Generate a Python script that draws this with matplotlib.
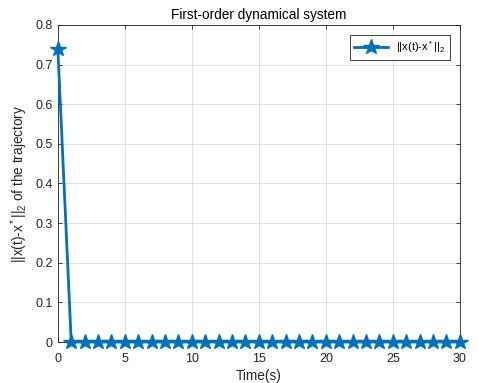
import matplotlib
matplotlib.use("Agg")
import matplotlib.pyplot as plt
import numpy as np

# data
time_s = list(range(0, 31))
error_norm = [0.74] + [0.0] * 30

plt.rcParams['font.family'] = ['Liberation Sans', 'DejaVu Sans']
plt.rcParams['mathtext.fontset'] = 'custom'
plt.rcParams['mathtext.rm'] = 'Liberation Sans'
plt.rcParams['mathtext.it'] = 'Liberation Sans'

fig = plt.figure(figsize=(4.78, 3.83), dpi=100)
ax = fig.add_axes([0.121, 0.107, 0.841, 0.828])

ax.plot(time_s, error_norm, color='#0072BD', lw=2, marker='*', ms=11.5,
        clip_on=False, zorder=3, label=r'||x(t)-x$^*$||$_2$')

ax.set_xlim(0, 30)
ax.set_ylim(0, 0.8)
ax.set_xticks(np.arange(0, 31, 5))
ax.set_yticks(np.arange(0, 0.81, 0.1))
ax.set_yticklabels(['0', '0.1', '0.2', '0.3', '0.4', '0.5', '0.6', '0.7', '0.8'])
ax.grid(True, color='#dcdcdc', lw=0.6)
ax.set_axisbelow(True)
ax.tick_params(direction='in', top=True, right=True, labelsize=9,
               colors='#262626', length=3, width=0.6)
ax.tick_params(axis='x', pad=8)
for s in ax.spines.values():
    s.set_color('#262626')
    s.set_linewidth(0.6)

ax.set_title('First-order dynamical system', fontsize=9.8, color='#000000', pad=4)
ax.set_xlabel('Time(s)', fontsize=9.8, color='#262626', labelpad=3)
ax.set_ylabel(r'||x(t)-x$^*$||$_2$ of the trajectory', fontsize=9.8,
              color='#262626', labelpad=4)

leg = ax.legend(loc='upper right', fontsize=8, fancybox=False, framealpha=1,
                edgecolor='#262626', handlelength=3.0, borderaxespad=0.9)
leg.get_frame().set_linewidth(0.6)

fig.savefig('out.png', dpi=100)
